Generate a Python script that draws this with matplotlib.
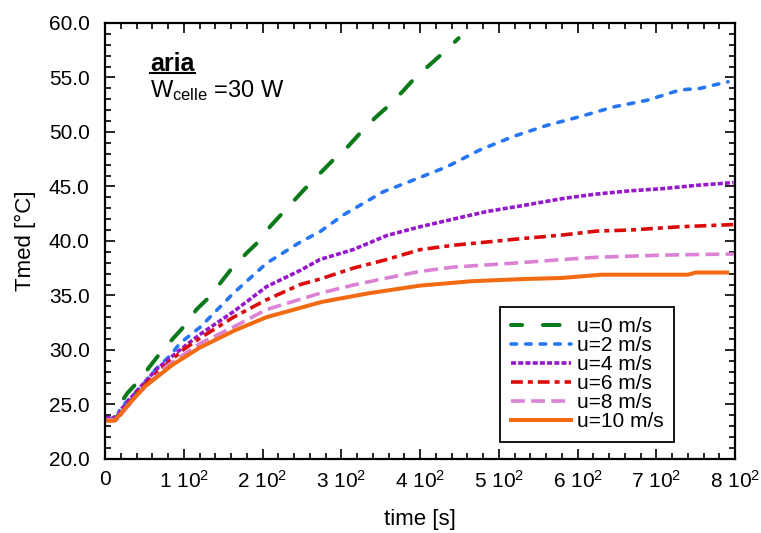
import numpy as np
import matplotlib
matplotlib.use('Agg')
import matplotlib.pyplot as plt
from matplotlib.ticker import MultipleLocator, FixedLocator, FixedFormatter, FormatStrFormatter
from matplotlib.lines import Line2D

plt.rcParams['font.family'] = ['Liberation Sans', 'DejaVu Sans']
plt.rcParams['mathtext.fontset'] = 'custom'
plt.rcParams['mathtext.rm'] = 'Liberation Sans'
plt.rcParams['mathtext.it'] = 'Liberation Sans:italic'
plt.rcParams['mathtext.bf'] = 'Liberation Sans:bold'
plt.rcParams['lines.scale_dashes'] = False

# mean cell temperature vs time, one run per air speed
t_u0 = [0, 12, 17, 28, 44, 57, 70, 87, 104, 116, 131, 146, 159, 180, 193, 210,
        254, 273, 290, 309, 324, 343, 360, 379, 394, 413, 430, 449]
T_u0 = [23.7, 23.7, 24.8, 26.0, 27.25, 28.5, 29.7, 31.1, 32.45, 33.7, 34.75, 36.1,
        37.3, 38.9, 39.8, 41.35, 44.8, 46.2, 47.45, 48.7, 49.9, 51.3, 52.4, 53.8,
        55.0, 56.2, 57.3, 58.6]

t_u2 = [0, 15, 19, 49, 64, 83, 95, 121, 163, 205, 248, 273, 303, 353, 392, 434,
        476, 519, 561, 603, 646, 688, 730, 756, 773, 791]
T_u2 = [23.7, 23.7, 24.6, 26.9, 28.2, 29.5, 30.6, 32.1, 35.2, 37.95, 39.9, 40.85,
        42.4, 44.5, 45.6, 46.8, 48.35, 49.6, 50.6, 51.4, 52.3, 52.9, 53.85, 54.0,
        54.3, 54.6]

t_u4 = [0, 15, 20, 40, 65, 90, 120, 163, 205, 248, 273, 315, 358, 400, 442, 485,
        527, 582, 624, 667, 709, 751, 798]
T_u4 = [23.8, 23.8, 24.5, 26.2, 28.2, 29.7, 31.4, 33.5, 35.8, 37.3, 38.3, 39.2,
        40.5, 41.3, 42.0, 42.7, 43.2, 43.9, 44.3, 44.6, 44.8, 45.1, 45.35]

t_u6 = [0, 15, 40, 66, 99, 121, 163, 205, 248, 273, 315, 358, 400, 442, 485, 527,
        582, 624, 667, 730, 798]
T_u6 = [23.6, 23.6, 26.0, 27.9, 30.0, 31.1, 33.0, 34.6, 36.0, 36.5, 37.5, 38.3,
        39.2, 39.6, 39.9, 40.2, 40.55, 40.9, 41.0, 41.3, 41.5]

t_u8 = [0, 15, 40, 78, 121, 163, 205, 248, 273, 315, 358, 400, 442, 485, 527, 582,
        624, 667, 709, 751, 798]
T_u8 = [23.6, 23.6, 25.8, 28.5, 30.6, 32.1, 33.7, 34.65, 35.2, 35.95, 36.6, 37.2,
        37.6, 37.8, 38.0, 38.3, 38.5, 38.6, 38.7, 38.75, 38.8]

t_u10 = [0, 12, 30, 50, 85, 120, 165, 205, 250, 275, 335, 400, 465, 530, 580, 630,
         740, 750, 790]
T_u10 = [23.5, 23.5, 25.0, 26.6, 28.6, 30.2, 31.8, 33.0, 33.9, 34.4, 35.2, 35.9,
         36.3, 36.5, 36.6, 36.9, 36.9, 37.1, 37.1]

labels = ['u=0 m/s', 'u=2 m/s', 'u=4 m/s', 'u=6 m/s', 'u=8 m/s', 'u=10 m/s']
xtick_vals = [0, 100, 200, 300, 400, 500, 600, 700, 800]
xtick_text = ['0'] + ['%d 10$^{\\mathregular{2}}$' % k for k in range(1, 9)]

fig = plt.figure(figsize=(7.61, 5.33), dpi=100)
ax = fig.add_axes([0.138, 0.139, 0.828, 0.818])

ax.plot(t_u0, T_u0, color='#0b7a1b', lw=2.9, linestyle=(4, (12, 15)), dash_capstyle='round', label=labels[0])
ax.plot(t_u2, T_u2, color='#2877f2', lw=2.6, dashes=(4, 6.5), dash_capstyle='round', label=labels[1])
ax.plot(t_u4, T_u4, color='#9518cc', lw=2.6, dashes=(3.6, 1.6), label=labels[2])
ax.plot(t_u6, T_u6, color='#dc0a0a', lw=2.6, dashes=(8.5, 3.6, 3.6, 3.6), label=labels[3])
ax.plot(t_u8, T_u8, color='#dc82d4', lw=2.6, dashes=(10, 4.5), label=labels[4])
ax.plot(t_u10, T_u10, color='#f26b12', lw=2.9, label=labels[5])

ax.set_xlim(0, 800)
ax.set_ylim(20, 60)
ax.xaxis.set_major_locator(FixedLocator(xtick_vals))
ax.xaxis.set_major_formatter(FixedFormatter(xtick_text))
ax.xaxis.set_minor_locator(MultipleLocator(20))
ax.yaxis.set_major_locator(MultipleLocator(5))
ax.yaxis.set_minor_locator(MultipleLocator(1))
ax.yaxis.set_major_formatter(FormatStrFormatter('%.1f'))

ax.tick_params(which='both', direction='in', top=True, right=True, width=1.2, labelsize=15)
ax.tick_params(which='major', length=7)
ax.tick_params(which='minor', length=4)
ax.tick_params(axis='x', which='major', pad=8)
ax.tick_params(axis='y', which='major', pad=11)
for s in ax.spines.values():
    s.set_linewidth(1.6)

ax.set_xlabel('time [s]', fontsize=16, labelpad=12)
ax.set_ylabel('Tmed [°C]', fontsize=16, labelpad=9)

title = ax.text(0.072, 0.889, 'aria', transform=ax.transAxes, fontsize=18,
                fontweight='bold', va='baseline')
ax.text(0.072, 0.831, 'W$_{\\mathregular{celle}}$ =30 W', transform=ax.transAxes,
        fontsize=17, va='baseline')

leg = ax.legend(loc='lower left', bbox_to_anchor=(0.627, 0.039), borderaxespad=0,
                fontsize=15, handlelength=2.9, handletextpad=0.3, labelspacing=0.0,
                fancybox=False, framealpha=1, edgecolor='black', borderpad=0.5)
leg.get_frame().set_linewidth(1.3)

# underline the "aria" heading just below its baseline
fig.canvas.draw()
bb = title.get_window_extent()
base_y = ax.transAxes.transform((0.072, 0.889))[1]
fig.add_artist(Line2D([bb.x0, bb.x1], [base_y - 2, base_y - 2], transform=None,
                      color='black', lw=1.5))

fig.savefig('out.png', dpi=100)
